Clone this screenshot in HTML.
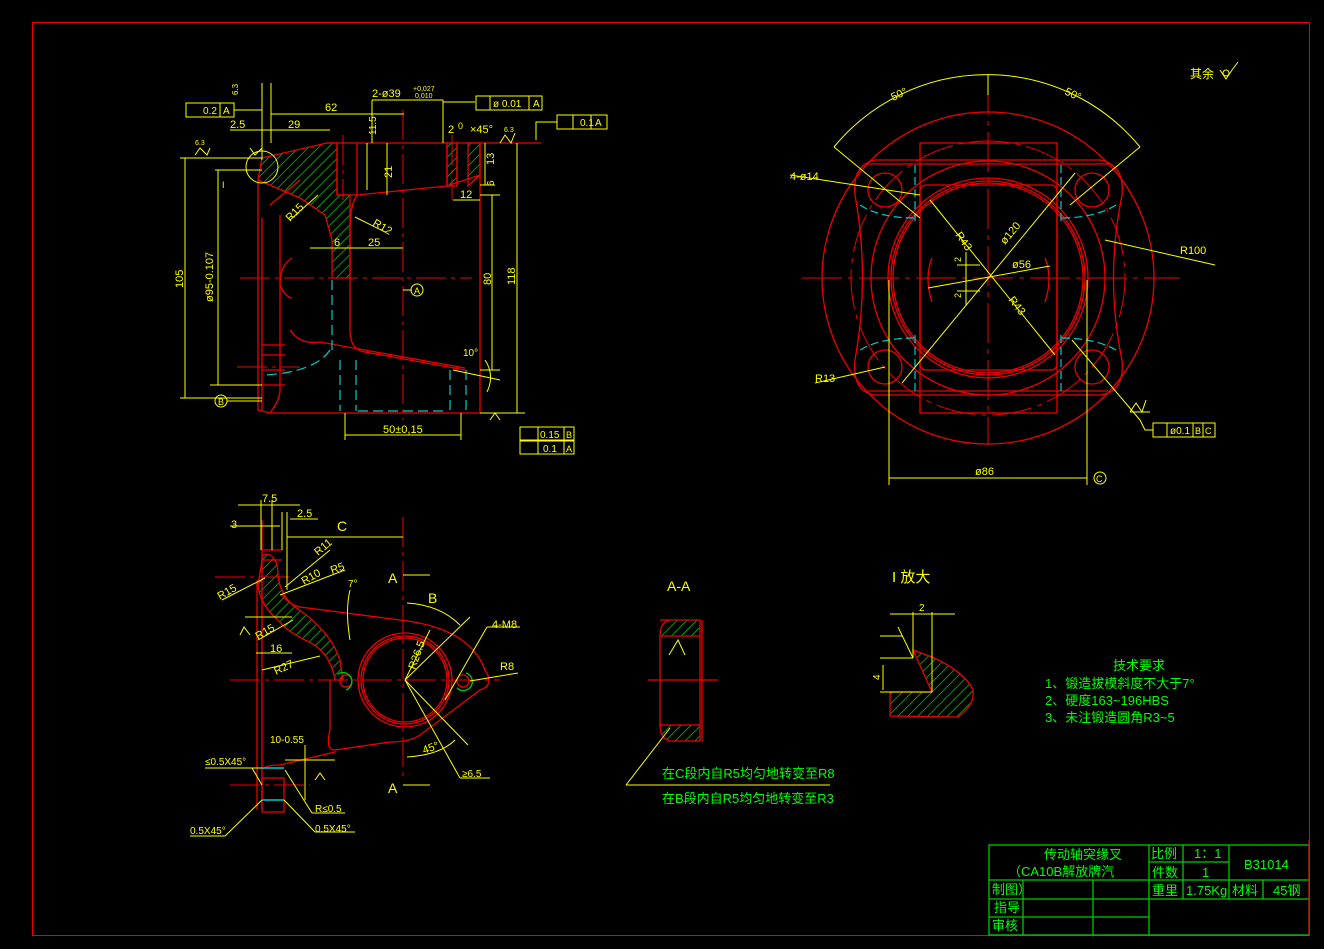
<!DOCTYPE html>
<html><head><meta charset="utf-8"><style>
html,body{margin:0;padding:0;background:#000;}
svg{display:block}
text{font-family:"Liberation Sans","Noto Sans CJK SC",sans-serif;}
</style></head><body>
<svg width="1324" height="949" viewBox="0 0 1324 949" xmlns="http://www.w3.org/2000/svg">
<defs>
<pattern id="h" width="7" height="7" patternUnits="userSpaceOnUse" patternTransform="rotate(45)">
<rect width="7" height="7" fill="#000"/><line x1="0" y1="0" x2="0" y2="7" stroke="#0c0" stroke-width="1.5"/></pattern>
</defs>
<rect width="1324" height="949" fill="#000"/>
<!-- border -->
<rect x="32.5" y="22.5" width="1277" height="913" fill="none" stroke="#e00" stroke-width="1"/>

<!-- ===== TOP-LEFT VIEW ===== -->
<g fill="none" stroke="#e00" stroke-width="1.3">
<polygon points="262,158 327,143 337,143 337,195 350,195 350,278 332,278 332,240 325,215 300,198 258,180" fill="url(#h)" stroke="#e00"/>
<polygon points="447,143 457,143 457,186 447,186" fill="url(#h)"/>
<polygon points="468,143 480,143 480,175 468,186" fill="url(#h)"/>
<line x1="327" y1="143" x2="541" y2="143"/>
<line x1="337" y1="143" x2="337" y2="195"/><line x1="357" y1="143" x2="357" y2="195"/>
<line x1="337" y1="195" x2="357" y2="195"/>
<path d="M357,195 Q350,205 350,230"/>
<line x1="357" y1="195" x2="447" y2="186"/>
<line x1="447" y1="143" x2="447" y2="186"/><line x1="457" y1="143" x2="457" y2="186"/>
<line x1="480" y1="143" x2="480" y2="413"/>
<line x1="447" y1="186" x2="480" y2="175"/>
<path d="M258,180 L258,410 L270,413 L480,413"/>
<path d="M262,218 L262,410 M270,205 L300,180"/>
<path d="M270,413 Q280,400 280,390 L280,215"/>
<path d="M350,230 L350,330 Q350,350 365,352 L465,370"/>
<path d="M290,330 Q300,345 320,342 L465,368"/>
<line x1="262" y1="345" x2="285" y2="345"/><line x1="262" y1="355" x2="285" y2="355"/><line x1="262" y1="370" x2="285" y2="370"/>
<line x1="262" y1="385" x2="285" y2="385"/>
<path d="M292,258 Q280,265 280,285 Q285,297 292,298"/>
</g>
<g fill="none" stroke="#e00" stroke-width="1" stroke-dasharray="30,5,4,5">
<line x1="240" y1="278" x2="472" y2="278"/>
<line x1="403" y1="110" x2="403" y2="420"/>
<line x1="237" y1="367" x2="300" y2="367"/>
<line x1="343" y1="135" x2="343" y2="200"/><line x1="452" y1="135" x2="452" y2="200"/>
</g>
<g fill="none" stroke="#0cc" stroke-width="1.2" stroke-dasharray="10,5">
<line x1="332" y1="280" x2="332" y2="350"/>
<line x1="340" y1="360" x2="340" y2="411"/><line x1="356" y1="360" x2="356" y2="411"/>
<line x1="450" y1="370" x2="450" y2="411"/><line x1="466" y1="370" x2="466" y2="411"/>
<line x1="358" y1="411" x2="448" y2="411"/>
<path d="M330,350 Q315,372 265,375"/>
</g>
<g fill="none" stroke="#ff0" stroke-width="1">
<circle cx="262" cy="167" r="16"/>
<line x1="262" y1="83" x2="262" y2="160"/><line x1="271" y1="83" x2="271" y2="143"/>
<line x1="271" y1="114" x2="404" y2="114"/>
<line x1="230" y1="130" x2="330" y2="130"/>
<line x1="372" y1="100" x2="443" y2="100"/><line x1="443" y1="100" x2="443" y2="143"/>
<line x1="372" y1="100" x2="372" y2="143"/>
<line x1="443" y1="102" x2="475" y2="102"/>
<rect x="186" y="103" width="48" height="14"/><line x1="220" y1="103" x2="220" y2="117"/>
<line x1="234" y1="110" x2="262" y2="110"/>
<rect x="476" y="96" width="66" height="14"/><line x1="490" y1="96" x2="490" y2="110"/><line x1="529" y1="96" x2="529" y2="110"/>
<rect x="557" y="115" width="50" height="14"/><line x1="573" y1="115" x2="573" y2="129"/><line x1="591" y1="115" x2="591" y2="129"/>
<polyline points="557,122 536,122 536,140"/>
<line x1="180" y1="158" x2="262" y2="158"/><line x1="185" y1="158" x2="185" y2="398"/>
<line x1="215" y1="170" x2="262" y2="170"/><line x1="218" y1="170" x2="218" y2="385"/>
<line x1="180" y1="398" x2="262" y2="398"/><line x1="210" y1="385" x2="262" y2="385"/>
<line x1="480" y1="413" x2="525" y2="413"/><line x1="517" y1="143" x2="517" y2="413"/>
<line x1="480" y1="195" x2="500" y2="195"/><line x1="492" y1="195" x2="492" y2="370"/>
<line x1="480" y1="370" x2="500" y2="370"/>
<line x1="367" y1="143" x2="367" y2="190"/><line x1="387" y1="143" x2="387" y2="195"/>
<line x1="480" y1="185" x2="495" y2="185"/><line x1="485" y1="143" x2="485" y2="185"/>
<line x1="453" y1="200" x2="480" y2="200"/>
<line x1="310" y1="248" x2="403" y2="248"/>
<line x1="345" y1="435" x2="461" y2="435"/><line x1="345" y1="413" x2="345" y2="440"/><line x1="461" y1="413" x2="461" y2="440"/>
<line x1="290" y1="220" x2="318" y2="195"/><line x1="355" y1="217" x2="385" y2="232"/>
<line x1="453" y1="370" x2="500" y2="380"/>
<path d="M485,360 Q495,375 487,392"/>
<line x1="403" y1="290" x2="412" y2="290"/><circle cx="417" cy="290" r="6"/>
<circle cx="221" cy="401" r="6"/><line x1="227" y1="401" x2="262" y2="401"/>
<rect x="520" y="427" width="54" height="13"/><line x1="538" y1="427" x2="538" y2="440"/><line x1="564" y1="427" x2="564" y2="440"/>
<rect x="520" y="441" width="54" height="13"/><line x1="538" y1="441" x2="538" y2="454"/><line x1="564" y1="441" x2="564" y2="454"/>
<polyline points="195,155 200,148 207,155 210,148" /><polyline points="250,148 255,155 262,148"/>
<polyline points="500,143 505,135 511,143 515,133"/>
<polyline points="490,420 495,413 500,420"/>
</g>
<g fill="#ff0" font-size="11">
<text x="245" y="88" font-size="8" transform="rotate(-90 245 95)">6.3</text>
<text x="203" y="114" font-size="10">0.2</text><text x="223" y="114" font-size="10">A</text>
<text x="325" y="111">62</text><text x="230" y="128">2.5</text><text x="288" y="128">29</text>
<text x="372" y="97">2-ø39</text><text x="413" y="91" font-size="7">+0,027</text><text x="415" y="98" font-size="7">0,010</text>
<text x="493" y="107" font-size="10">ø 0.01</text><text x="533" y="107" font-size="10">A</text>
<text x="580" y="126" font-size="10">0.1</text><text x="595" y="126" font-size="10">A</text>
<text x="448" y="133">2</text><text x="458" y="129" font-size="9">0</text><text x="470" y="133">×45°</text>
<text x="195" y="145" font-size="7">6.3</text><text x="504" y="132" font-size="7">6.3</text>
<text x="376" y="135" font-size="10" transform="rotate(-90 376 135)">11.5</text>
<text x="392" y="178" transform="rotate(-90 392 178)">21</text>
<text x="494" y="165" transform="rotate(-90 494 165)">13</text>
<text x="494" y="186" font-size="10" transform="rotate(-90 494 186)">6</text>
<text x="460" y="198">12</text>
<text x="290" y="222" transform="rotate(-45 290 222)">R15</text>
<text x="372" y="225" transform="rotate(30 372 225)">R12</text>
<text x="334" y="246">6</text><text x="368" y="246">25</text>
<text x="183" y="288" transform="rotate(-90 183 288)">105</text>
<text x="213" y="302" transform="rotate(-90 213 302)">ø95-0.107</text>
<text x="491" y="285" transform="rotate(-90 491 285)">80</text>
<text x="515" y="285" transform="rotate(-90 515 285)">118</text>
<text x="414" y="294" font-size="9">A</text><text x="218" y="405" font-size="9">B</text>
<text x="463" y="356" font-size="10">10°</text>
<text x="383" y="433">50±0,15</text>
<text x="222" y="188" font-size="9">I</text>
<text x="540" y="438" font-size="10">0.15</text><text x="566" y="438" font-size="9">B</text>
<text x="543" y="452" font-size="10">0.1</text><text x="566" y="452" font-size="9">A</text>
</g>

<!-- ===== BOTTOM-LEFT VIEW ===== -->
<g fill="none" stroke="#e00" stroke-width="1.3">
<path d="M262,560 Q262,552 270,555 Q278,560 278,575 Q280,595 295,607 Q330,630 340,660 L343,680 L335,680 Q330,650 305,640 Q285,630 278,620 Q260,605 258,585 Z" fill="url(#h)"/>
<line x1="262" y1="520" x2="262" y2="810"/><line x1="257" y1="580" x2="257" y2="810"/>
<line x1="262" y1="550" x2="282" y2="550"/><line x1="262" y1="560" x2="282" y2="560"/>
<path d="M282,595 Q290,605 300,607 L400,620 Q470,628 485,670 Q495,685 480,690 Q440,720 420,735 Q410,742 390,742 L335,750 Q325,750 330,730 L330,680"/>
<path d="M262,770 Q265,765 280,765 L335,752"/>
<rect x="262" y="778" width="22" height="34"/>
<circle cx="405" cy="680" r="47"/><circle cx="405" cy="680" r="44"/><circle cx="405" cy="680" r="42"/>
<circle cx="346" cy="681" r="6"/><circle cx="463" cy="681" r="6"/>
</g>
<g fill="none" stroke="#0c0" stroke-width="1.3"><path d="M338,674 A9,9 0 1,1 346,690"/><path d="M457,688 A9,9 0 1,0 466,673"/></g>
<g fill="none" stroke="#0cc" stroke-width="1.5"><line x1="262" y1="768" x2="284" y2="768"/><line x1="262" y1="800" x2="284" y2="800"/></g>
<g fill="none" stroke="#e00" stroke-width="1" stroke-dasharray="30,5,4,5">
<line x1="230" y1="680" x2="500" y2="680"/><line x1="403" y1="517" x2="403" y2="780"/>
<line x1="215" y1="577" x2="290" y2="577"/><line x1="230" y1="785" x2="310" y2="785"/>
</g>
<g fill="none" stroke="#ff0" stroke-width="1">
<line x1="238" y1="505" x2="300" y2="505"/><line x1="230" y1="526" x2="280" y2="526"/><line x1="290" y1="519" x2="318" y2="519"/>
<line x1="287" y1="537" x2="403" y2="537"/>
<line x1="261" y1="500" x2="261" y2="550"/><line x1="272" y1="500" x2="272" y2="550"/><line x1="282" y1="512" x2="282" y2="550"/><line x1="287" y1="512" x2="287" y2="590"/>
<line x1="222" y1="600" x2="265" y2="578"/><line x1="285" y1="587" x2="330" y2="550"/><line x1="280" y1="595" x2="345" y2="570"/>
<line x1="258" y1="640" x2="293" y2="620"/><line x1="262" y1="670" x2="320" y2="656"/>
<line x1="256" y1="653" x2="292" y2="653"/><line x1="245" y1="617" x2="292" y2="617"/>
<line x1="403" y1="575" x2="430" y2="575"/><line x1="403" y1="785" x2="430" y2="785"/>
<path d="M407,603 Q440,605 460,625"/><path d="M407,757 Q440,755 455,740"/>
<path d="M350,590 Q345,610 350,640"/>
<line x1="405" y1="680" x2="470" y2="617"/><line x1="405" y1="680" x2="468" y2="745"/><line x1="405" y1="680" x2="430" y2="630"/>
<line x1="405" y1="680" x2="460" y2="778"/><line x1="460" y1="778" x2="490" y2="778"/>
<line x1="445" y1="700" x2="487" y2="627"/><line x1="487" y1="627" x2="520" y2="627"/>
<line x1="470" y1="681" x2="518" y2="673"/>
<line x1="305" y1="745" x2="305" y2="800"/><line x1="285" y1="760" x2="335" y2="760"/>
<line x1="205" y1="768" x2="262" y2="768"/><line x1="252" y1="768" x2="262" y2="785"/>
<line x1="190" y1="836" x2="225" y2="836"/><line x1="225" y1="836" x2="262" y2="800"/>
<line x1="284" y1="800" x2="315" y2="832"/><line x1="315" y1="832" x2="355" y2="832"/>
<line x1="285" y1="770" x2="312" y2="813"/><line x1="312" y1="813" x2="345" y2="813"/>
<polyline points="240,635 244,627 250,635"/><polyline points="315,780 320,773 325,780"/>
</g>
<g fill="#ff0" font-size="11">
<text x="262" y="502">7.5</text><text x="297" y="517">2.5</text><text x="231" y="528">3</text>
<text x="337" y="531" font-size="14">C</text>
<text x="318" y="556" transform="rotate(-40 318 556)">R11</text><text x="304" y="585" transform="rotate(-30 304 585)">R10</text>
<text x="332" y="574" transform="rotate(-20 332 574)">R5</text>
<text x="220" y="600" transform="rotate(-30 220 600)">R15</text>
<text x="258" y="640" transform="rotate(-30 258 640)">R15</text><text x="270" y="652">16</text>
<text x="276" y="675" transform="rotate(-25 276 675)">R27</text>
<text x="348" y="587" font-size="10">7°</text>
<text x="388" y="583" font-size="14">A</text><text x="388" y="793" font-size="14">A</text>
<text x="428" y="603" font-size="14">B</text>
<text x="415" y="670" transform="rotate(-70 415 670)">R26.5</text>
<text x="492" y="628">4-M8</text><text x="500" y="670">R8</text>
<text x="424" y="754" transform="rotate(-20 424 754)">45°</text><text x="462" y="777" font-size="10">≥6.5</text>
<text x="270" y="743" font-size="10">10-0.55</text>
<text x="205" y="765" font-size="10">≤0.5X45°</text>
<text x="190" y="834" font-size="10">0.5X45°</text><text x="315" y="832" font-size="10">0.5X45°</text>
<text x="315" y="812" font-size="10">R≤0.5</text>
</g>

<!-- ===== A-A ===== -->
<g stroke="#e00" stroke-width="1.3">
<path d="M660,620 L700,620 L700,636 L660,636 Q660,622 670,620 Z" fill="url(#h)"/>
<path d="M660,725 L700,725 L700,741 L670,741 Q660,738 660,725 Z" fill="url(#h)"/>
<line x1="660" y1="636" x2="660" y2="725" fill="none"/><line x1="700" y1="636" x2="700" y2="725"/><line x1="702" y1="620" x2="702" y2="741"/>
<line x1="648" y1="680" x2="718" y2="680"/>
</g>
<g stroke="#ff0" stroke-width="1" fill="none"><line x1="626" y1="785" x2="830" y2="785"/><line x1="626" y1="785" x2="670" y2="728"/><polyline points="669,655 678,640 685,655"/></g>
<text x="667" y="591" fill="#ff0" font-size="14">A-A</text>
<g fill="#0f0" font-size="13"><text x="662" y="778">在C段内自R5均匀地转变至R8</text><text x="662" y="803">在B段内自R5均匀地转变至R3</text></g>

<!-- ===== I detail ===== -->
<text x="892" y="582" fill="#ff0" font-size="15">I 放大</text>
<path d="M913,650 L932,657 Q965,672 973,690 Q975,705 958,717 L890,716 L890,692 L932,692 Z" fill="url(#h)" stroke="#e00" stroke-width="1.3"/>
<g stroke="#ff0" stroke-width="1" fill="none"><line x1="913" y1="612" x2="913" y2="658"/><line x1="932" y1="612" x2="932" y2="692"/>
<line x1="890" y1="614" x2="955" y2="614"/><line x1="880" y1="658" x2="913" y2="658"/><line x1="880" y1="692" x2="932" y2="692"/>
<line x1="883" y1="665" x2="883" y2="690"/><line x1="880" y1="636" x2="903" y2="636"/><line x1="898" y1="627" x2="913" y2="658"/></g>
<g fill="#ff0" font-size="10"><text x="919" y="611">2</text><text x="880" y="680" transform="rotate(-90 880 680)">4</text></g>

<!-- ===== RIGHT VIEW ===== -->
<g fill="none" stroke="#e00" stroke-width="1.3">
<circle cx="988" cy="278" r="166"/>
<circle cx="988" cy="278" r="100"/><circle cx="988" cy="278" r="97"/><circle cx="988" cy="278" r="95"/>
<circle cx="988" cy="278" r="117"/>
<path d="M875,160 L1100,160 Q1125,165 1122,195 Q1105,278 1122,360 Q1125,392 1100,395 L875,395 Q852,392 855,360 Q870,278 855,195 Q852,165 875,160 Z"/>
<line x1="868" y1="164" x2="1108" y2="164"/><line x1="868" y1="391" x2="1108" y2="391"/>
<rect x="920" y="143" width="137" height="270"/>
<circle cx="885" cy="190" r="17"/><circle cx="1092" cy="190" r="17"/><circle cx="885" cy="367" r="17"/><circle cx="1092" cy="367" r="17"/>
<rect x="920" y="185" width="137" height="185" rx="6"/>
<path d="M932,258 Q924,278 932,302"/><path d="M1045,258 Q1053,278 1045,302"/>
</g>
<g fill="none" stroke="#e00" stroke-width="1" stroke-dasharray="40,6,5,6">
<line x1="802" y1="278" x2="1180" y2="278"/><line x1="988" y1="75" x2="988" y2="445"/>
<circle cx="988" cy="278" r="137"/>
</g>
<g fill="none" stroke="#0cc" stroke-width="1.2" stroke-dasharray="8,4">
<line x1="915" y1="165" x2="915" y2="225"/><line x1="1061" y1="165" x2="1061" y2="225"/>
<line x1="915" y1="335" x2="915" y2="395"/><line x1="1061" y1="335" x2="1061" y2="395"/>
<path d="M860,205 Q880,218 915,218"/><path d="M1116,205 Q1095,218 1061,218"/>
<path d="M860,350 Q880,338 915,338"/><path d="M1116,350 Q1095,338 1061,338"/>
</g>
<g fill="none" stroke="#ff0" stroke-width="1">
<path d="M834,147 A198,198 0 0,1 1140,147"/>
<line x1="988" y1="75" x2="988" y2="95"/>
<line x1="834" y1="147" x2="920" y2="218"/><line x1="1140" y1="147" x2="1070" y2="205"/>
<line x1="790" y1="175" x2="920" y2="195"/>
<line x1="930" y1="200" x2="1055" y2="355"/><line x1="902" y1="383" x2="1075" y2="173"/>
<line x1="928" y1="288" x2="1050" y2="266"/>
<line x1="1105" y1="240" x2="1215" y2="265"/>
<line x1="815" y1="383" x2="885" y2="367"/>
<line x1="1072" y1="340" x2="1140" y2="420"/><polyline points="1140,420 1145,430 1153,430"/>
<rect x="1153" y="423" width="62" height="14"/><line x1="1167" y1="423" x2="1167" y2="437"/><line x1="1193" y1="423" x2="1193" y2="437"/><line x1="1203" y1="423" x2="1203" y2="437"/>
<line x1="889" y1="280" x2="889" y2="485"/><line x1="1087" y1="280" x2="1087" y2="485"/>
<line x1="889" y1="478" x2="1087" y2="478"/>
<line x1="957" y1="265" x2="980" y2="265"/><line x1="957" y1="291" x2="980" y2="291"/><line x1="966" y1="252" x2="966" y2="305"/>
<polyline points="1130,412 1136,403 1142,412 1146,400"/><line x1="1130" y1="412" x2="1150" y2="412"/>
<circle cx="1100" cy="478" r="6"/>
</g>
<g fill="#ff0" font-size="11">
<text x="893" y="101" transform="rotate(-25 893 101)">50°</text><text x="1064" y="94" transform="rotate(25 1064 94)">50°</text>
<text x="790" y="180">4-ø14</text>
<text x="955" y="235" transform="rotate(55 955 235)">R43</text>
<text x="1005" y="245" transform="rotate(-50 1005 245)">ø120</text>
<text x="1012" y="268">ø56</text>
<text x="1008" y="300" transform="rotate(52 1008 300)">R43</text>
<text x="961" y="262" font-size="9" transform="rotate(-90 961 262)">2</text><text x="961" y="298" font-size="9" transform="rotate(-90 961 298)">2</text>
<text x="1180" y="254">R100</text><text x="815" y="382">R13</text>
<text x="975" y="475">ø86</text><text x="1096" y="482" font-size="9">C</text>
<text x="1170" y="434" font-size="10">ø0.1</text><text x="1195" y="434" font-size="9">B</text><text x="1205" y="434" font-size="9">C</text>
<text x="1190" y="78" font-size="12">其余</text>
</g>
<g fill="none" stroke="#ff0"><polyline points="1220,70 1226,79 1232,70 1238,62"/><circle cx="1226" cy="73" r="3"/></g>

<!-- tech req -->
<g fill="#0f0" font-size="13"><text x="1113" y="670">技术要求</text>
<text x="1045" y="688">1、锻造拔模斜度不大于7°</text>
<text x="1045" y="705">2、硬度163~196HBS</text>
<text x="1045" y="722">3、未注锻造圆角R3~5</text></g>

<!-- ===== TITLE BLOCK ===== -->
<g fill="none" stroke="#0c0" stroke-width="1.3">
<rect x="989" y="845" width="320" height="90"/>
<line x1="989" y1="880" x2="1309" y2="880"/><line x1="989" y1="899" x2="1149" y2="899"/><line x1="989" y1="917" x2="1149" y2="917"/>
<line x1="1149" y1="862" x2="1229" y2="862"/><line x1="1149" y1="899" x2="1309" y2="899"/>
<line x1="1149" y1="845" x2="1149" y2="935"/><line x1="1183" y1="845" x2="1183" y2="899"/><line x1="1229" y1="845" x2="1229" y2="899"/>
<line x1="1263" y1="880" x2="1263" y2="899"/>
<line x1="1023" y1="880" x2="1023" y2="935"/><line x1="1093" y1="880" x2="1093" y2="935"/>
</g>
<line x1="1309" y1="840" x2="1309" y2="936" stroke="#e00"/>
<g fill="#0f0" font-size="13">
<text x="1044" y="859">传动轴突缘叉</text><text x="1008" y="876">（CA10B解放牌汽</text>
<text x="992" y="894">制图）</text><text x="994" y="912">指导</text><text x="992" y="930">审核</text>
<text x="1151" y="858">比例</text><text x="1194" y="858">1：1</text>
<text x="1152" y="877">件数</text><text x="1202" y="877">1</text>
<text x="1244" y="869">B31014</text>
<text x="1152" y="895">重里</text><text x="1186" y="895">1.75Kg</text><text x="1232" y="895">材料</text><text x="1273" y="895">45钢</text>
</g>
</svg>
</body></html>
